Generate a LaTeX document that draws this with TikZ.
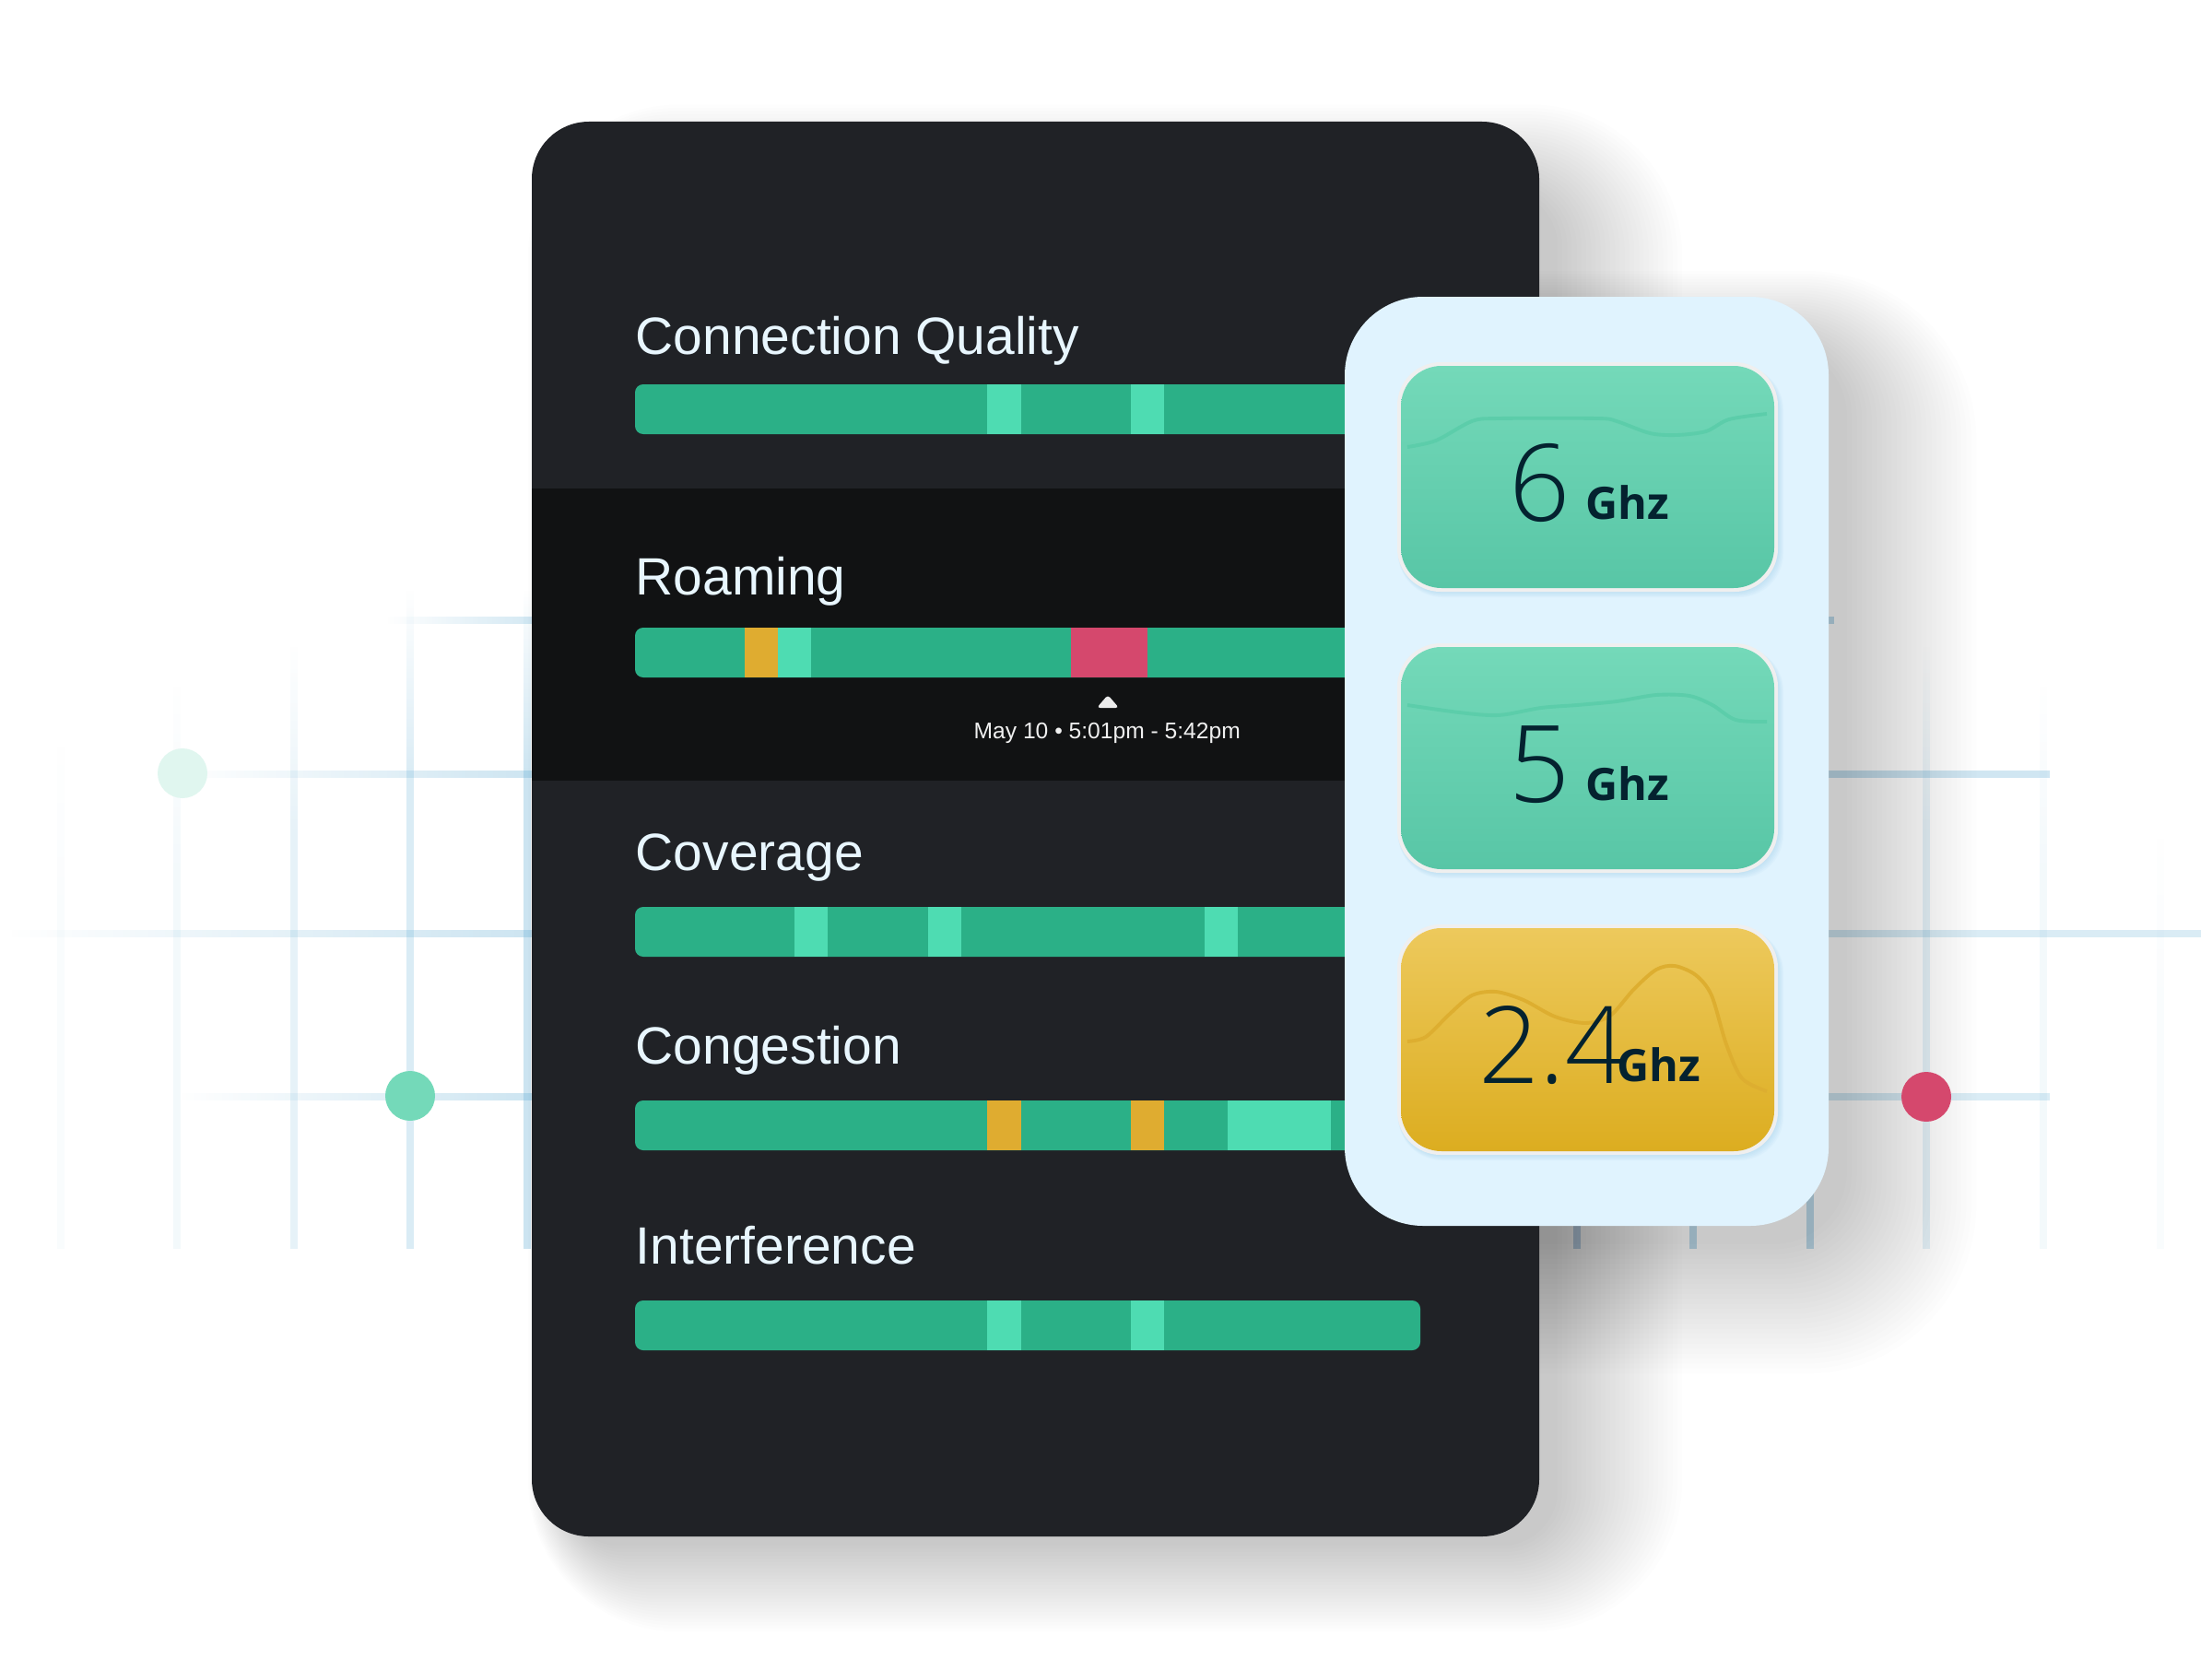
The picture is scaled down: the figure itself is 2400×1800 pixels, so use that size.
\documentclass[tikz,border=0pt]{standalone}
\usepackage{fontspec}
\usetikzlibrary{fadings}
\setmainfont{Liberation Sans}
\newfontfamily\ghzfont{Open Sans}
\newfontfamily\numfont{Open Sans Light}
\definecolor{panel}{HTML}{202226}
\definecolor{band}{HTML}{111213}
\definecolor{barg}{HTML}{2BB087}
\definecolor{barm}{HTML}{4EDCB2}
\definecolor{bara}{HTML}{DFAC30}
\definecolor{barr}{HTML}{D5486D}
\definecolor{lightp}{HTML}{E0F3FE}
\definecolor{ink}{HTML}{04222F}
\definecolor{labelc}{HTML}{E8F6FE}
\definecolor{gridc}{HTML}{6FB4D8}
\definecolor{gtop}{HTML}{74D9B9}
\definecolor{gbot}{HTML}{58C6A6}
\definecolor{gwave}{HTML}{5CCDAA}
\definecolor{atop}{HTML}{EDC95C}
\definecolor{abot}{HTML}{DCAD20}
\definecolor{awave}{HTML}{DDAE30}
\definecolor{rim}{HTML}{EFEFEF}
\tikzset{
 x=0.01cm,y=-0.01cm,
 gridbar/.style={fill=gridc,draw=none},
 rowlabel/.style={anchor=base west,inner sep=0,text=labelc,font=\fontsize{16.2pt}{18pt}\selectfont},
 ghz/.style={anchor=base west,inner sep=0,text=ink,font=\fontsize{13.8pt}{15pt}\ghzfont\bfseries},
 num/.style={anchor=base west,inner sep=0,text=ink,font=\fontsize{33pt}{36pt}\numfont},
 wavegreen/.style={draw=gwave,line width=1.1pt},
 waveamber/.style={draw=awave,line width=1.1pt},
}
\newcommand{\gridv}[3]{\fill[gridbar,fill opacity=#3,path fading=north] (#1-4,#2) rectangle (#1+4,#2+200);\fill[gridbar,fill opacity=#3] (#1-4,#2+200) rectangle (#1+4,1355);}
\newcommand{\barbase}[1]{\fill[barg,rounded corners=2.5pt] (689,#1) rectangle (1541,#1+54);}
\newcommand{\seg}[4]{\fill[#4] (#2,#1) rectangle (#3,#1+54);}
\newcommand{\card}[4]{%
 \foreach \i in {1,...,5}{\fill[gridc,opacity=.05,rounded corners=0.48cm] (1517,#1) rectangle (1929+\i*1.2,#2+4+\i*1.2);}
 \fill[rim,rounded corners=0.47cm] (1516,#1-4) rectangle (1929,#2+4);
 \shade[top color=#3,bottom color=#4,rounded corners=0.44cm] (1520,#1) rectangle (1925,#2);
}
\begin{document}
\begin{tikzpicture}
\useasboundingbox (0,0) rectangle (2400,1800);
\fill[white] (0,0) rectangle (2400,1800);
% grid
\gridv{66}{800}{.04}
\gridv{192}{740}{.08}
\gridv{319}{700}{.17}
\gridv{445}{640}{.25}
\gridv{572}{640}{.35}
\gridv{1711}{1100}{.35}
\gridv{1837}{1100}{.35}
\gridv{1964}{1100}{.35}
\gridv{2090}{700}{.17}
\gridv{2217}{740}{.08}
\gridv{2344}{900}{.04}
\fill[gridbar,fill opacity=.3,path fading=west] (420,669) rectangle (580,677);
\fill[gridbar,fill opacity=.35] (1900,669) rectangle (1990,677);
\fill[gridbar,fill opacity=.35,path fading=west] (198,836) rectangle (580,844);
\fill[gridbar,fill opacity=.32] (1900,836) rectangle (2224,844);
\fill[gridbar,fill opacity=.35,path fading=west] (10,1009) rectangle (580,1017);
\fill[gridbar,fill opacity=.25] (1900,1009) rectangle (2388,1017);
\fill[gridbar,fill opacity=.35,path fading=west] (195,1186) rectangle (580,1194);
\fill[gridbar,fill opacity=.25] (1900,1186) rectangle (2224,1194);
% shadows
\foreach \i in {0,...,26}{
  \pgfmathsetmacro{\ds}{(26-\i)}
  \pgfmathsetmacro{\ra}{(60+\ds*4)*0.01}
  \pgfmathsetmacro{\rb}{(80+\ds*4)*0.01}
  \fill[black,opacity=.0085,rounded corners=\ra cm] ({612-\ds*1.5},{207-\ds*3.6}) rectangle ({1690+\ds*5.2},{1677+\ds*3.6});
  \fill[black,opacity=.0085,rounded corners=\rb cm] ({1519-\ds*3},{372-\ds*3}) rectangle ({2004+\ds*5.4},{1350+\ds*5.4});
}
% dark panel
\fill[panel,rounded corners=0.62cm] (577,132) rectangle (1670,1667);
\fill[band] (577,530) rectangle (1459,847);
% bars
\barbase{417}\seg{417}{1071}{1108}{barm}\seg{417}{1227}{1263}{barm}
\barbase{681}\seg{681}{808}{844}{bara}\seg{681}{844}{880}{barm}\seg{681}{1162}{1245}{barr}
\barbase{984}\seg{984}{862}{898}{barm}\seg{984}{1007}{1043}{barm}\seg{984}{1307}{1343}{barm}
\barbase{1194}\seg{1194}{1071}{1108}{bara}\seg{1194}{1227}{1263}{bara}\seg{1194}{1332}{1444}{barm}
\barbase{1411}\seg{1411}{1071}{1108}{barm}\seg{1411}{1227}{1263}{barm}
% labels
\node[rowlabel] (lq) at (689,384) {Connection Quality};
\node[rowlabel] (lr) at (689,645) {Roaming};
\node[rowlabel] (lc) at (689,944) {Coverage};
\node[rowlabel] (lg) at (689,1154) {Congestion};
\node[rowlabel] (li) at (689,1371) {Interference};
\fill[white!85!gray,rounded corners=1pt] (1202,754) -- (1214,768) -- (1190,768) -- cycle;
\node[anchor=base west,inner sep=0,text=white!88!gray,font=\fontsize{7pt}{8pt}\selectfont] (when) at (1056,801) {May 10 • 5:01pm - 5:42pm};
% light panel
\fill[lightp,rounded corners=0.85cm] (1459,322) rectangle (1984,1330);
% dots
\fill[white] (198,839) circle (27);
\fill[white!100!black,fill=gtop,fill opacity=.22] (198,839) circle (27);
\fill[gtop] (445,1189) circle (27);
\fill[barr] (2090,1190) circle (27);
% cards
\card{397}{638}{gtop}{gbot}
\card{702}{943}{gtop}{gbot}
\card{1007}{1249}{atop}{abot}
\draw[wavegreen] plot[smooth] coordinates {(1527,485)(1558,478)(1597,457)(1626,454)(1733,454)(1754,457)(1790,470)(1819,472)(1851,468)(1876,455)(1917,449)};
\draw[wavegreen] plot[smooth] coordinates {(1527,765)(1583,773)(1626,776)(1672,768)(1711,765)(1754,761)(1797,754)(1833,755)(1858,765)(1883,781)(1917,783)};
\draw[waveamber] plot[smooth] coordinates {(1527,1130)(1547,1125)(1573,1100)(1597,1080)(1623,1076)(1653,1085)(1687,1103)(1720,1110)(1747,1102)(1773,1073)(1797,1052)(1817,1048)(1840,1058)(1857,1080)(1873,1133)(1890,1170)(1917,1184)};
\node[num] (n6) at (1637,565) {6};
\node[ghz] (g6) at (1720,563) {Ghz};
\node[num] (n5) at (1637,870) {5};
\node[ghz] (g5) at (1720,868) {Ghz};
\node[num] (n24) at (1604,1175) {2.4};
\node[ghz] (g24) at (1754,1173) {Ghz};
\end{tikzpicture}
\end{document}
